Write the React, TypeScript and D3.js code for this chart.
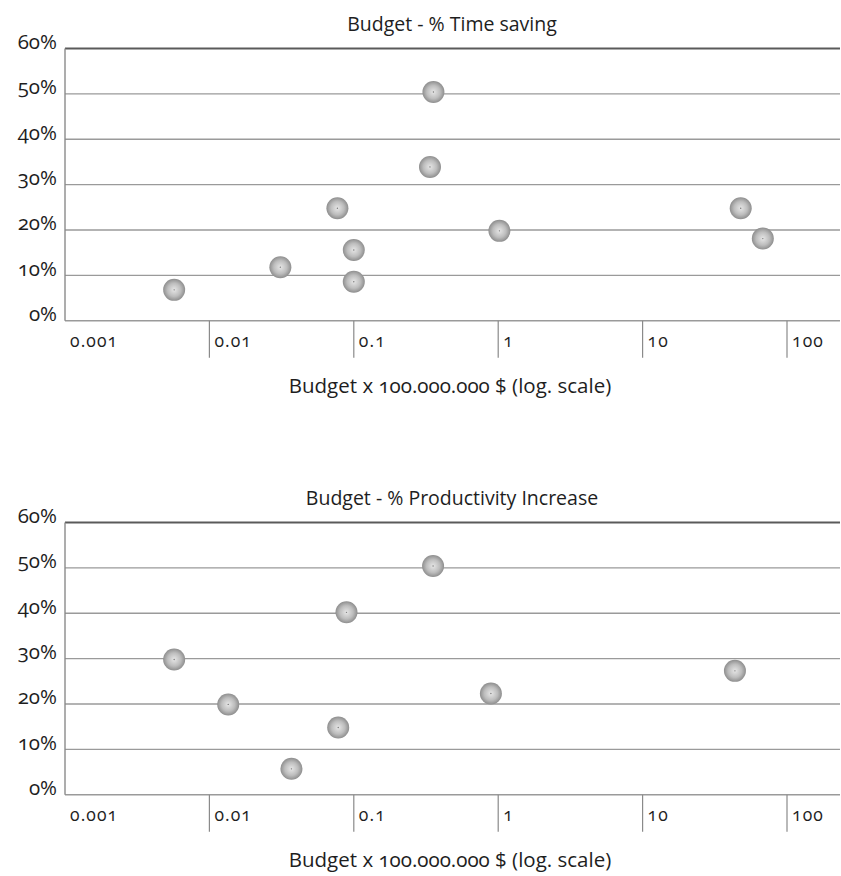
import React from "react";
import * as d3 from "d3";

const xTicks = [0.001, 0.01, 0.1, 1, 10, 100];
const xTickLabels = ["0.001", "0.01", "0.1", "1", "10", "100"];
const yTicks = [0, 10, 20, 30, 40, 50, 60];
const yTickLabels = ["0%", "10%", "20%", "30%", "40%", "50%", "60%"];

const timeBudget = [0.0057, 0.031, 0.077, 0.1, 0.1, 0.356, 0.337, 1.02, 47.8, 68];
const timeSaving = [6.8, 11.8, 24.8, 15.6, 8.6, 50.4, 33.9, 19.8, 24.8, 18.1];

const prodBudget = [0.0057, 0.0135, 0.037, 0.078, 0.089, 0.354, 0.89, 43.6];
const prodIncrease = [29.8, 19.9, 5.7, 14.8, 40.2, 50.4, 22.3, 27.3];

const titles = ["Budget - % Time saving", "Budget - % Productivity Increase"];
const xAxisTitle = "Budget x 100.000.000 $ (log. scale)";

const FONT = "'Open Sans', 'DejaVu Sans', sans-serif";
const textStyle = { fontVariantNumeric: "oldstyle-nums" as const };

function Panel({ top, title, xs, ys, gid }: { top: number; title: string; xs: number[]; ys: number[]; gid: string }) {
  const left = 65;
  const right = 840;
  const x = d3.scaleLog().domain([0.001, Math.pow(10, -3 + (right - left) / 144.4)]).range([left, right]);
  const y = d3.scaleLinear().domain([0, 60]).range([top + 272.2, top]);
  const y0 = y(0);
  return (
    <g>
      <text x={452} y={top - 17.5} textAnchor="middle" fontFamily={FONT} fontSize={19.5} fill="#1e1e1e" style={textStyle}>
        {title}
      </text>
      {yTicks.map((t, i) => (
        <g key={t}>
          {t > 0 && (
            <line
              x1={left}
              x2={right}
              y1={y(t)}
              y2={y(t)}
              stroke={t === 60 ? "#5a5a5a" : "#9a9a9a"}
              strokeWidth={t === 60 ? 2 : 1.4}
            />
          )}
          <text x={57} y={y(t) + 0.5} textAnchor="end" fontFamily={FONT} fontSize={20.5} fill="#1e1e1e" style={textStyle}>
            {yTickLabels[i]}
          </text>
        </g>
      ))}
      <line x1={left} x2={right} y1={y0} y2={y0} stroke="#9a9a9a" strokeWidth={1.4} />
      <line x1={left} x2={left} y1={y(60)} y2={y0} stroke="#8a8a8a" strokeWidth={1.4} />
      {xTicks.map((t, i) => (
        <g key={t}>
          {i > 0 && <line x1={x(t)} x2={x(t)} y1={y0} y2={y0 + 37} stroke="#8a8a8a" strokeWidth={1.2} />}
          <text x={x(t) + 5} y={y0 + 26.5} fontFamily={FONT} fontSize={17.5} letterSpacing={1.1} fill="#1e1e1e" style={textStyle}>
            {xTickLabels[i]}
          </text>
        </g>
      ))}
      <text x={450} y={y0 + 72} textAnchor="middle" fontFamily={FONT} fontSize={20.5} fill="#1e1e1e" style={textStyle}>
        {xAxisTitle}
      </text>
      {xs.map((v, i) => (
        <g key={i}>
          <circle cx={x(v)} cy={y(ys[i])} r={11} fill={`url(#${gid})`} />
          <circle cx={x(v)} cy={y(ys[i])} r={0.7} fill="#777" />
        </g>
      ))}
    </g>
  );
}

export default function App() {
  return (
    <svg width={841} height={876} style={{ position: "absolute", left: 0, top: 0, background: "#fff" }}>
      <defs>
        <radialGradient id="ball" cx="50%" cy="50%" r="50%">
          <stop offset="0%" stopColor="#e6e6e6" />
          <stop offset="60%" stopColor="#bdbdbd" />
          <stop offset="100%" stopColor="#8e8e8e" />
        </radialGradient>
      </defs>
      <Panel top={48.5} title={titles[0]} xs={timeBudget} ys={timeSaving} gid="ball" />
      <Panel top={522.5} title={titles[1]} xs={prodBudget} ys={prodIncrease} gid="ball" />
    </svg>
  );
}
